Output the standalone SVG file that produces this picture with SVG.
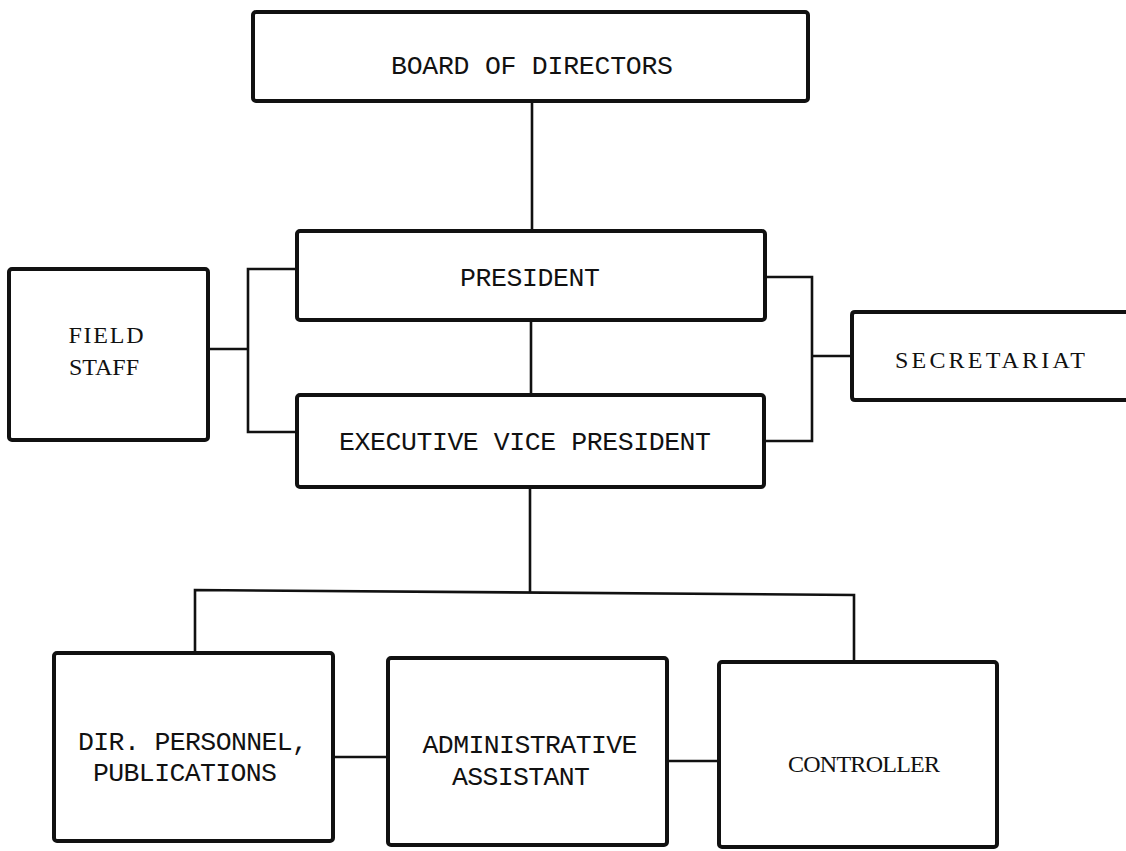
<svg xmlns="http://www.w3.org/2000/svg" width="1126" height="851" viewBox="0 0 1126 851">
  <style>
    .box { fill: #ffffff; stroke: #111111; stroke-width: 4; stroke-linejoin: round; }
    .wire { fill: none; stroke: #111111; stroke-width: 2.6; stroke-linejoin: miter; }
    .tw { font-family: "Liberation Mono", "Courier New", monospace; font-size: 26.5px; fill: #111111; text-anchor: middle; }
    .rm { font-family: "Liberation Serif", "Times New Roman", serif; font-size: 24px; fill: #111111; text-anchor: middle; }
  </style>
  <rect width="1126" height="851" fill="#ffffff"/>

  <!-- connectors -->
  <g id="connectors">
    <!-- board to president -->
    <path class="wire" d="M532,100 V231"/>
    <!-- president to executive vice president -->
    <path class="wire" d="M531,320 V395"/>
    <!-- left bracket to field staff -->
    <path class="wire" d="M297,269 H248 V432 H297"/>
    <path class="wire" d="M208,349 H248"/>
    <!-- right bracket to secretariat -->
    <path class="wire" d="M765,277 H812 V441 H765"/>
    <path class="wire" d="M812,356 H852"/>
    <!-- executive vice president down to the department bus -->
    <path class="wire" d="M530,488 V592"/>
    <path class="wire" d="M195,653 V590 L854,595 V662"/>
    <!-- links between the departments -->
    <path class="wire" d="M333,757 H388"/>
    <path class="wire" d="M667,761 H719"/>
  </g>

  <g id="board">
    <rect class="box" x="253" y="12" width="555" height="89" rx="3"/>
    <text class="tw" x="532" y="74" textLength="282">BOARD OF DIRECTORS</text>
  </g>

  <g id="president">
    <rect class="box" x="297" y="231" width="468" height="89" rx="3"/>
    <text class="tw" x="530" y="286" textLength="140">PRESIDENT</text>
  </g>

  <g id="evp">
    <rect class="box" x="297" y="395" width="467" height="92" rx="3"/>
    <text class="tw" x="525" y="450" textLength="372">EXECUTIVE VICE PRESIDENT</text>
  </g>

  <g id="field-staff">
    <rect class="box" x="9" y="269" width="199" height="171" rx="3"/>
    <text class="rm" x="106" y="343" textLength="75">FIELD</text>
    <text class="rm" x="104" y="375" textLength="70">STAFF</text>
  </g>

  <g id="secretariat">
    <path class="box" d="M1130,312 H855 Q852,312 852,315 V397 Q852,400 855,400 H1130"/>
    <text class="rm" x="990" y="368" textLength="190">SECRETARIAT</text>
  </g>

  <g id="dir-personnel">
    <rect class="box" x="54" y="653" width="279" height="188" rx="3"/>
    <text class="tw" x="193" y="750" textLength="230">DIR. PERSONNEL,</text>
    <text class="tw" x="185" y="781" textLength="184">PUBLICATIONS</text>
  </g>

  <g id="admin-assistant">
    <rect class="box" x="388" y="658" width="279" height="187" rx="3"/>
    <text class="tw" x="530" y="753" textLength="215">ADMINISTRATIVE</text>
    <text class="tw" x="521" y="785" textLength="138">ASSISTANT</text>
  </g>

  <g id="controller">
    <rect class="box" x="719" y="662" width="278" height="185" rx="3"/>
    <text class="rm" x="864" y="772" font-size="25" textLength="152">CONTROLLER</text>
  </g>
</svg>
